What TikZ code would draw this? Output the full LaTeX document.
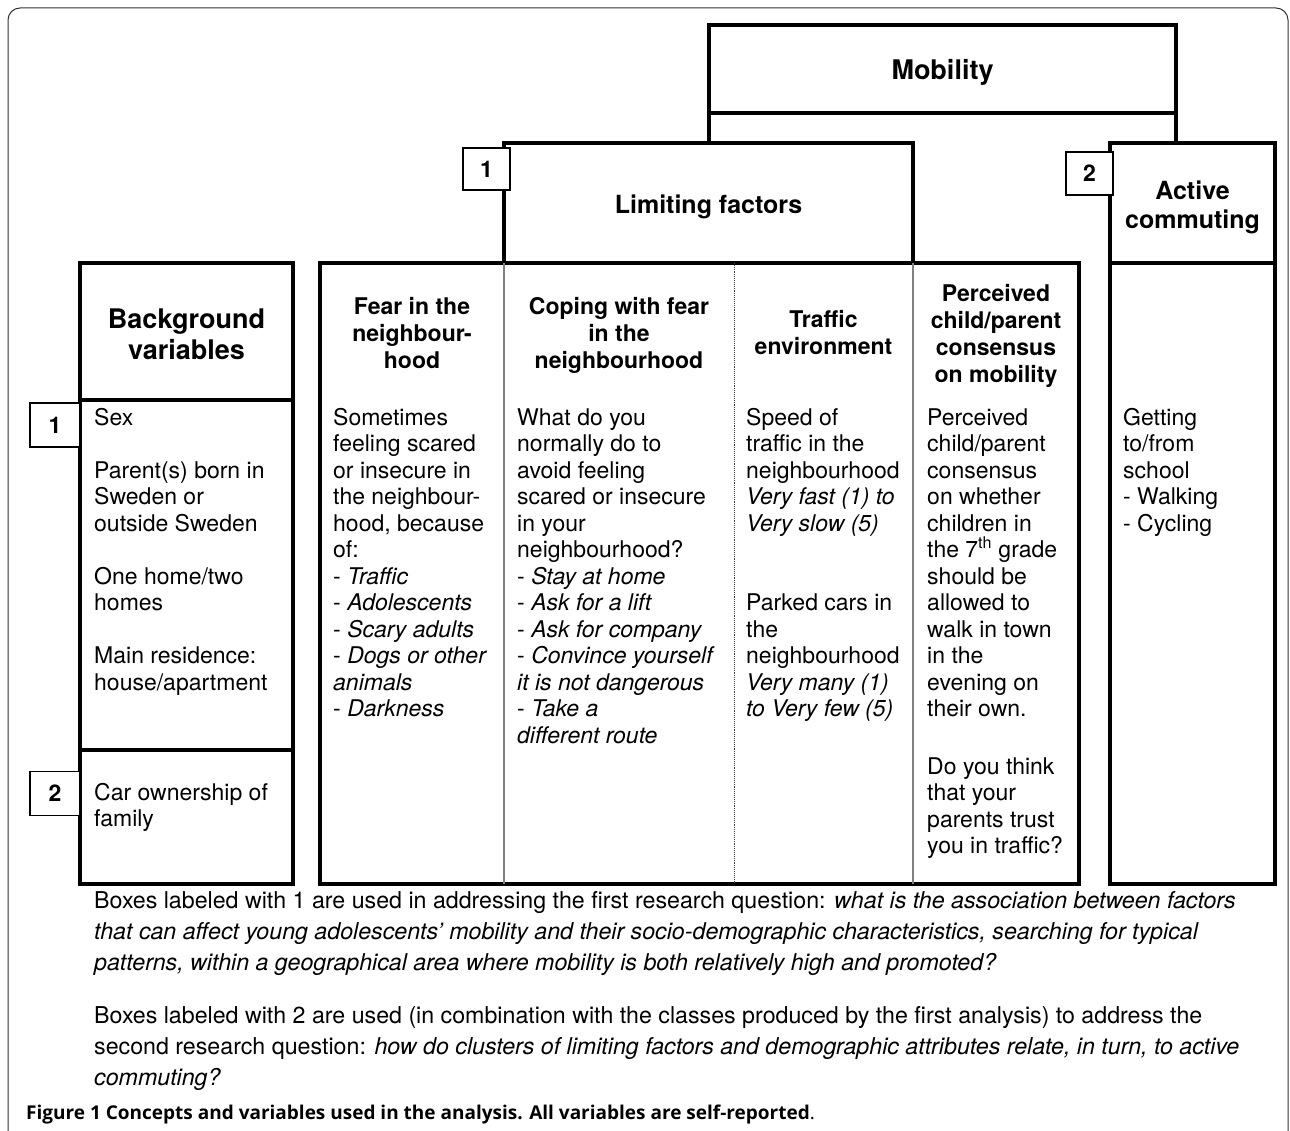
\documentclass[tikz,border=0pt]{standalone}
\usepackage{fontspec}
\setmainfont{TeX Gyre Heros}
\newfontfamily\capfont{Open Sans}
\begin{document}
\begin{tikzpicture}[x=1pt,y=-1pt,
  tbox/.style={draw, line width=4pt, inner sep=0pt, outer sep=0pt},
  lab/.style={draw, fill=white, line width=1.3pt, inner sep=0pt, outer sep=0pt, font=\fontsize{23}{26}\selectfont\bfseries},
  body/.style={anchor=north west, align=left, inner sep=0pt, font=\fontsize{23}{26.5}\selectfont},
  head/.style={anchor=north, align=center, inner sep=0pt, font=\fontsize{23}{27}\selectfont\bfseries},
  sep/.style={line width=1.2pt, black!50},
  thickline/.style={line width=4pt}
]
\useasboundingbox (0,0) rectangle (1290,1131);
\draw[line width=1pt, black!80, rounded corners=12pt] (8,1200) -- (8,8) -- (1288,8) -- (1288,1200);

% boxes
\node[tbox, minimum width=759pt, minimum height=621pt] (tab) at (699.5,573.5) {};
\node[tbox, fill=white, minimum width=409pt, minimum height=120pt] (lim) at (708.5,203) {};
\node[tbox, minimum width=467pt, minimum height=88pt] (mob) at (942.5,69) {};
\node[tbox, minimum width=165pt, minimum height=741pt] (act) at (1192.5,513.5) {};
\node[tbox, minimum width=213pt, minimum height=621pt] (bg) at (186.5,573.5) {};

% connectors from Mobility
\draw[thickline] (mob.south west) -- (mob.south west |- lim.north);
\draw[thickline] (mob.south east) -- (mob.south east |- act.north);

% dividers
\draw[thickline] (act.west |- tab.north) -- (act.east |- tab.north);
\coordinate (d1) at (186.5,400);
\coordinate (d2) at (186.5,750);
\draw[thickline] (bg.west |- d1) -- (bg.east |- d1);
\draw[thickline] (bg.west |- d2) -- (bg.east |- d2);

% column separators
\coordinate (c3) at (734,263);
\draw[sep] (lim.south west) -- (lim.south west |- tab.south);
\draw[line width=0.9pt, black!75, densely dotted] (c3) -- (c3 |- tab.south);
\draw[sep] (lim.south east) -- (lim.south east |- tab.south);

% number labels
\node[lab, minimum width=47pt, minimum height=42pt] (l1a) at (486.5,169) {1};
\node[lab, minimum width=47pt, minimum height=43pt] (l2a) at (1089.5,173.5) {2};
\node[lab, minimum width=50pt, minimum height=44pt] (l1b) at (55,425) {1};
\node[lab, minimum width=50pt, minimum height=44pt] (l2b) at (55,793.5) {2};

% headings
\node[anchor=base, inner sep=0pt, font=\fontsize{27}{31}\selectfont\bfseries] (mobt) at (942.5,80) {Mobility};
\node[anchor=base, inner sep=0pt, font=\fontsize{25}{29}\selectfont\bfseries] (limt) at (708.5,214) {Limiting factors};
\node[head, font=\fontsize{25}{29}\selectfont\bfseries] (actt) at (1192.5,178.7) {\strut Active\\commuting};
\node[head, font=\fontsize{27}{31}\selectfont\bfseries] (bgt) at (186.5,306.3) {\strut Background\\variables};
\node[head] (h1) at (412,295) {\strut Fear in the\\neighbour-\\hood};
\node[head] (h2) at (619,295) {\strut Coping with fear\\in the\\neighbourhood};
\node[head] (h3) at (823.5,308) {\strut Traffic\\environment};
\node[head] (h4) at (996,282) {\strut Perceived\\child/parent\\consensus\\on mobility};

% body texts
\node[body] (b1) at (94,406.5) {\strut Sex\\[26.5pt]Parent(s) born in\\Sweden or\\outside Sweden\\[26.5pt]One home/two\\homes\\[26.5pt]Main residence:\\house/apartment};
\node[body] (b2) at (94,781.5) {\strut Car ownership of\\family};
\node[body] (t1) at (333,406.5) {\strut Sometimes\\feeling scared\\or insecure in\\the neighbour-\\hood, because\\of:\\- \textit{Traffic}\\- \textit{Adolescents}\\- \textit{Scary adults}\\- \textit{Dogs or other}\\\textit{animals}\\- \textit{Darkness}};
\node[body] (t2) at (517,406.5) {\strut What do you\\normally do to\\avoid feeling\\scared or insecure\\in your\\neighbourhood?\\- \textit{Stay at home}\\- \textit{Ask for a lift}\\- \textit{Ask for company}\\- \textit{Convince yourself}\\\textit{it is not dangerous}\\- \textit{Take a}\\\textit{different route}};
\node[body] (t3) at (746,406.5) {\strut Speed of\\traffic in the\\neighbourhood\\\textit{Very fast (1) to}\\\textit{Very slow (5)}\\[53pt]Parked cars in\\the\\neighbourhood\\\textit{Very many (1)}\\\textit{to Very few (5)}};
\node[body] (t4) at (927,406.5) {\strut Perceived\\child/parent\\consensus\\on whether\\children in\\the 7\textsuperscript{th} grade\\should be\\allowed to\\walk in town\\in the\\evening on\\their own.};
\node[body] (t4b) at (927,755.5) {\strut Do you think\\that your\\parents trust\\you in traffic?};
\node[body] (t5) at (1123,406.5) {\strut Getting\\to/from\\school\\- Walking\\- Cycling};

% notes
\node[body, font=\fontsize{23.2}{31}\selectfont] (n1) at (94,886.3) {\strut Boxes labeled with 1 are used in addressing the first research question: \textit{what is the association between factors}\\\textit{that can affect young adolescents’ mobility and their socio-demographic characteristics, searching for typical}\\\textit{patterns, within a geographical area where mobility is both relatively high and promoted?}};
\node[body, font=\fontsize{23.2}{31}\selectfont] (n2) at (94,1001.3) {\strut Boxes labeled with 2 are used (in combination with the classes produced by the first analysis) to address the\\second research question: \textit{how do clusters of limiting factors and demographic attributes relate, in turn, to active}\\\textit{commuting?}};

% caption
\node[anchor=base west, inner sep=0pt, font=\fontsize{19}{23}\selectfont\capfont] (cap) at (26,1119) {\textbf{Figure 1 Concepts and variables used in the analysis. All variables are self-reported}.};
\end{tikzpicture}
\end{document}
